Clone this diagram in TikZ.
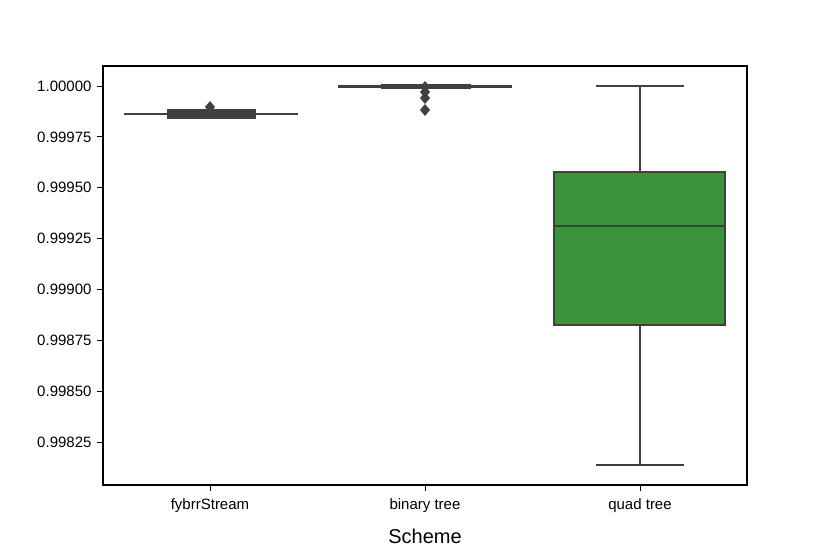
\documentclass[tikz,border=0pt]{standalone}
\usepackage{fontspec}
\setmainfont{Liberation Sans}
\begin{document}
\begin{tikzpicture}[x=1pt,y=-1pt,
  ln/.style={draw=black!75,line width=2.6pt},
  bx/.style={draw=black!75,line width=2.4pt},
  tk/.style={font=\fontsize{15}{17}\selectfont,anchor=east},
  dm/.style={fill=black!75,draw=none}]
\useasboundingbox (0,0) rectangle (830,554);
% axes
\draw[line width=1.2pt] (103,66) rectangle (747,485);
\foreach \v/\lab in {0/1.00000,1/0.99975,2/0.99950,3/0.99925,4/0.99900,5/0.99875,6/0.99850,7/0.99825}{
  \pgfmathsetmacro{\yy}{86+\v*50.86}
  \draw[line width=1pt] (97,\yy) -- (103,\yy);
  \node[tk] (t\v) at (95,\yy) {\lab};
}
\foreach \x/\lab/\n in {210/fybrrStream/a,425/binary tree/b,640/quad tree/c}{
  \draw[line width=1pt] (\x,485) -- (\x,491);
  \node[font=\fontsize{15}{17}\selectfont] (x\n) at (\x,506) {\lab};
}
\node[font=\fontsize{20}{24}\selectfont] (xl) at (425,536) {Scheme};
% fybrrStream
\draw[ln] (124,114) -- (298,114);
\draw[bx,fill=black!75] (168,110) rectangle (255,118);
\fill[dm] (210,101) -- (215,107) -- (210,113) -- (205,107) -- cycle;
% binary tree
\draw[ln] (338,86.5) -- (512,86.5);
\draw[bx,fill=black!75] (382,85) rectangle (470,88);
\foreach \yy in {87,92,98,110}{
  \fill[dm] (425,\yy-6) -- (430,\yy) -- (425,\yy+6) -- (420,\yy) -- cycle;
}
% quad tree
\draw[ln] (640,86) -- (640,172);
\draw[ln] (640,325) -- (640,465);
\draw[ln] (596,86) -- (684,86);
\draw[ln] (596,465) -- (684,465);
\draw[bx,fill={rgb,255:red,58;green,146;blue,58}] (554,172) rectangle (725,325);
\draw[ln] (554,226) -- (725,226);
\end{tikzpicture}
\end{document}
